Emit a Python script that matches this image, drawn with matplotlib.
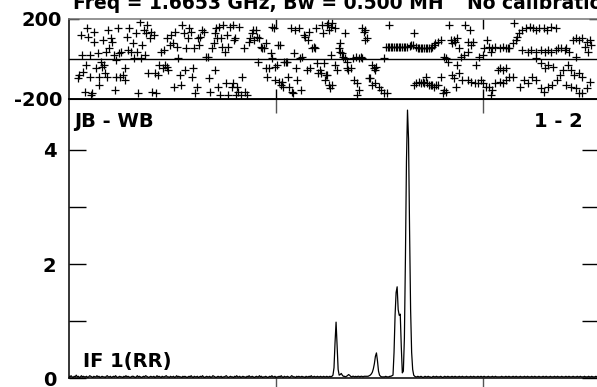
import numpy as np
import matplotlib
matplotlib.use('Agg')
import matplotlib.pyplot as plt

plt.rcParams['font.family'] = 'DejaVu Sans'
plt.rcParams['font.weight'] = 'bold'

# labels
title_left = 'Freq = 1.6653 GHz, Bw = 0.500 MH'
title_right = 'No calibration'
baseline_label = 'JB - WB'
pair_label = '1 - 2'
if_label = 'IF 1(RR)'

n_chan = 512

# amplitude spectrum, one value per channel (Jy-ish units)
amp = [
    0.03, 0.02, 0.04, 0.02, 0.01, 0.03, 0.02, 0.05, 0.02, 0.03, 0.01, 0.02, 0.04, 0.02, 0.03, 0.02,
    0.02, 0.03, 0.01, 0.02, 0.04, 0.03, 0.02, 0.01, 0.03, 0.02, 0.02, 0.04, 0.02, 0.03, 0.01, 0.02,
    0.03, 0.02, 0.02, 0.01, 0.03, 0.04, 0.02, 0.02, 0.03, 0.01, 0.02, 0.03, 0.02, 0.04, 0.02, 0.01,
    0.02, 0.03, 0.02, 0.02, 0.01, 0.03, 0.02, 0.04, 0.02, 0.03, 0.02, 0.01, 0.02, 0.03, 0.03, 0.02,
    0.01, 0.02, 0.04, 0.02, 0.03, 0.02, 0.01, 0.02, 0.03, 0.02, 0.04, 0.03, 0.02, 0.01, 0.02, 0.03,
    0.02, 0.02, 0.03, 0.01, 0.02, 0.04, 0.02, 0.03, 0.02, 0.01, 0.03, 0.02, 0.02, 0.03, 0.04, 0.02,
    0.02, 0.01, 0.03, 0.02, 0.02, 0.03, 0.01, 0.02, 0.04, 0.02, 0.03, 0.02, 0.02, 0.01, 0.03, 0.02,
    0.03, 0.02, 0.01, 0.02, 0.03, 0.02, 0.04, 0.02, 0.01, 0.03, 0.02, 0.02, 0.03, 0.01, 0.02, 0.03,
    0.02, 0.04, 0.02, 0.01, 0.02, 0.03, 0.02, 0.02, 0.03, 0.01, 0.02, 0.04, 0.03, 0.02, 0.01, 0.02,
    0.03, 0.02, 0.02, 0.03, 0.01, 0.02, 0.02, 0.03, 0.04, 0.02, 0.01, 0.02, 0.03, 0.02, 0.02, 0.01,
    0.03, 0.02, 0.04, 0.02, 0.02, 0.03, 0.01, 0.02, 0.03, 0.02, 0.02, 0.01, 0.03, 0.02, 0.04, 0.02,
    0.02, 0.03, 0.02, 0.01, 0.02, 0.03, 0.02, 0.02, 0.04, 0.02, 0.03, 0.01, 0.02, 0.02, 0.03, 0.02,
    0.01, 0.02, 0.03, 0.02, 0.04, 0.02, 0.02, 0.03, 0.01, 0.02, 0.02, 0.03, 0.02, 0.04, 0.02, 0.01,
    0.03, 0.02, 0.02, 0.03, 0.02, 0.01, 0.02, 0.04, 0.03, 0.02, 0.02, 0.01, 0.03, 0.02, 0.03, 0.02,
    0.02, 0.03, 0.02, 0.02, 0.01, 0.03, 0.02, 0.02, 0.03, 0.02, 0.04, 0.02, 0.02, 0.03, 0.02, 0.02,
    0.03, 0.02, 0.02, 0.03, 0.02, 0.02, 0.03, 0.02, 0.02, 0.03, 0.02, 0.02, 0.03, 0.02, 0.03, 0.05,
    0.18, 0.62, 0.98, 0.55, 0.15, 0.05, 0.06, 0.08, 0.05, 0.03, 0.03, 0.02, 0.03, 0.04, 0.06, 0.05,
    0.03, 0.02, 0.03, 0.03, 0.02, 0.03, 0.02, 0.03, 0.03, 0.02, 0.03, 0.03, 0.02, 0.03, 0.03, 0.03,
    0.03, 0.03, 0.04, 0.05, 0.07, 0.10, 0.16, 0.25, 0.38, 0.44, 0.30, 0.12, 0.05, 0.03, 0.02, 0.02,
    0.02, 0.02, 0.03, 0.02, 0.02, 0.02, 0.03, 0.03, 0.04, 0.05, 0.45, 1.10, 1.50, 1.60, 1.20, 1.10,
    1.12, 0.55, 0.09, 0.12, 0.70, 2.10, 3.80, 4.70, 4.20, 2.60, 1.20, 0.45, 0.15, 0.05, 0.03, 0.02,
    0.02, 0.03, 0.02, 0.02, 0.03, 0.02, 0.01, 0.02, 0.03, 0.02, 0.02, 0.03, 0.02, 0.02, 0.01, 0.02,
    0.03, 0.02, 0.02, 0.03, 0.02, 0.02, 0.02, 0.03, 0.02, 0.01, 0.02, 0.03, 0.02, 0.02, 0.03, 0.02,
    0.02, 0.02, 0.03, 0.02, 0.02, 0.03, 0.02, 0.02, 0.02, 0.03, 0.02, 0.02, 0.03, 0.02, 0.02, 0.02,
    0.03, 0.02, 0.02, 0.02, 0.03, 0.02, 0.02, 0.03, 0.02, 0.02, 0.02, 0.03, 0.02, 0.02, 0.03, 0.02,
    0.02, 0.03, 0.02, 0.02, 0.02, 0.03, 0.02, 0.02, 0.02, 0.03, 0.02, 0.02, 0.03, 0.02, 0.02, 0.02,
    0.02, 0.02, 0.03, 0.02, 0.02, 0.02, 0.03, 0.02, 0.02, 0.03, 0.02, 0.02, 0.02, 0.03, 0.02, 0.02,
    0.03, 0.02, 0.02, 0.02, 0.03, 0.02, 0.02, 0.02, 0.03, 0.02, 0.02, 0.03, 0.02, 0.02, 0.02, 0.03,
    0.02, 0.02, 0.03, 0.02, 0.02, 0.02, 0.03, 0.02, 0.02, 0.02, 0.03, 0.02, 0.02, 0.03, 0.02, 0.02,
    0.02, 0.03, 0.02, 0.02, 0.02, 0.03, 0.02, 0.02, 0.03, 0.02, 0.02, 0.02, 0.03, 0.02, 0.02, 0.02,
    0.03, 0.02, 0.02, 0.03, 0.02, 0.02, 0.02, 0.03, 0.02, 0.02, 0.02, 0.03, 0.02, 0.02, 0.03, 0.02,
    0.02, 0.02, 0.03, 0.02, 0.02, 0.02, 0.03, 0.02, 0.02, 0.03, 0.02, 0.02, 0.02, 0.03, 0.02, 0.02,
]

# phase points (channel, degrees)
phase_a = [(9, -97), (10, -80), (12, 120), (13, 20), (14, -63), (15, -163), (16, -30), (17, 153),
           (18, 112), (20, 20), (20, -88), (21, -180), (22, -172), (24, 137), (24, 87), (26, -47),
           (28, 28), (29, -88), (29, -130), (31, -13), (32, -38), (33, 95), (34, -30), (35, -72),
           (36, 37), (37, -88), (38, 145), (39, 53), (41, 103), (42, 87), (43, 20), (44, -155),
           (45, -88), (45, -5), (47, 153), (48, 28), (49, -88), (50, 37), (52, -80), (54, -105),
           (54, -47), (56, 112), (57, 45), (58, 153), (60, 37), (62, 78), (63, 3), (65, 128),
           (66, 37), (67, -172), (69, 185), (70, 3), (71, 70), (72, 145), (73, 20), (74, 128),
           (75, 170), (76, -72), (78, 103), (79, 137), (80, -163), (82, 120), (83, -72), (84, -172),
           (86, -80), (87, -30), (89, 37), (91, -47), (92, 45), (93, -30), (95, -38), (95, 103),
           (96, -55), (98, 70), (99, 120), (100, 78), (101, -138), (102, 137), (104, 62), (105, 3),
           (107, -80), (108, -130), (109, 170), (111, 128), (112, -55), (113, 53), (115, 103),
           (116, 153), (118, 137), (119, -88), (120, -47), (121, 53), (122, -172), (124, -138),
           (125, 103), (126, 70)]
phase_b = [(127, 112), (128, 145), (130, 137), (132, 12), (134, 12), (135, -97), (136, -163),
           (138, 53), (140, 78), (141, 128), (141, -55), (142, 153), (143, 103), (144, -138),
           (145, 162), (146, -180), (147, 103), (148, 62), (149, 170), (151, 37), (152, -122),
           (153, 120), (154, 62), (154, -180), (156, 162), (157, -138), (158, -122), (158, 170),
           (159, 95), (160, 103), (161, -180), (162, -138), (163, -163), (164, 162), (166, -180),
           (167, -88), (169, 53), (170, -163), (172, -180), (174, 87), (175, 103), (177, 128),
           (178, 145), (179, 95), (181, 145), (182, 112), (183, -13), (184, 103), (185, 62),
           (186, 53), (188, 53), (190, 78), (190, -47), (191, -88), (193, -47), (195, 28),
           (196, 162), (196, 3), (198, 153), (199, -38), (199, -105), (201, -30), (202, 70),
           (203, -113), (204, 70), (205, -130), (206, -113), (207, -138), (208, -13), (210, -13),
           (211, -13), (212, -88), (213, -138), (214, 153), (215, -163), (216, -172), (217, 28),
           (218, 145), (219, -47), (220, -105), (222, 153), (223, 3), (224, -155), (225, 12),
           (227, 120), (228, 112), (230, -55), (231, 95), (232, 137), (233, -47), (235, 53),
           (237, 62), (238, 53), (239, 153), (240, -22), (241, -72), (242, -55), (243, -72),
           (244, 170), (245, 128), (246, -22), (247, -105), (248, -80)]
phase_c = [(249, 170), (249, -80), (250, 178), (251, 145), (251, -130), (252, -147), (253, 162),
           (253, 20), (254, 178), (254, -130), (257, 153), (257, -30), (259, -55), (261, 53),
           (262, 37), (262, 78), (264, 28), (265, 12), (267, 3), (267, 128), (269, -13), (269, -47),
           (270, -55), (272, -47), (274, 3), (275, -105), (277, 12), (278, -122), (278, -180),
           (280, 3), (280, -155), (282, 12), (283, 3), (283, 153), (285, 137), (286, 145),
           (286, 95), (288, 103), (290, -97), (291, -97), (293, -30), (293, -130), (295, -47),
           (296, -55), (296, -122), (297, -38), (299, -138), (301, -155), (304, -172), (304, 3),
           (306, 62), (307, -172), (308, 62), (309, 62), (309, 170), (311, 62), (312, 62),
           (314, 62), (316, 62), (317, 62), (319, 62), (320, 62), (322, 62), (324, 62), (325, 62),
           (327, 62), (329, 67), (330, 70), (332, 70), (333, 128), (333, -130), (335, 62),
           (335, -122), (337, 53), (338, -113), (338, 53), (340, 53), (340, -122), (341, 53),
           (342, -113), (343, 53), (343, -122), (345, 53), (345, -88), (346, 53), (346, -122),
           (348, 53), (348, -130), (350, 53), (350, -130), (351, 62), (351, -130), (353, 70),
           (353, -138), (354, 78), (355, -130), (356, 87), (356, -130), (359, 95), (359, -88),
           (361, -172), (362, -155), (362, 12), (364, -163), (364, 3), (366, -13), (367, 170),
           (369, 95), (370, 78), (370, -80), (372, 95), (372, -97), (373, 87), (374, -138)]
phase_d = [(375, 103), (375, -30), (377, 53), (377, -72), (379, 12), (380, -105), (382, 20),
           (383, 170), (385, 87), (385, 37), (385, -105), (387, 145), (388, 70), (388, -113),
           (390, 87), (392, -122), (393, -30), (395, -122), (396, 12), (398, -105), (400, 20),
           (400, -122), (401, 53), (403, -138), (404, 95), (406, 62), (406, -138), (408, 37),
           (408, -180), (409, 53), (409, -155), (412, 62), (412, -122), (414, -55), (416, 53),
           (416, -113), (416, -47), (419, 62), (419, -122), (419, -55), (422, 53), (422, -105),
           (422, -47), (424, 53), (425, 53), (425, -88), (429, 78), (429, -88), (430, 178),
           (432, 95), (433, 112), (435, 128), (436, -138), (438, 145), (438, 45), (440, -105),
           (441, 153), (443, 37), (443, -122), (445, 162), (446, 45), (447, -88), (448, 153),
           (451, 145), (451, 37), (451, -105), (451, 3), (454, 153), (456, 45), (456, -147),
           (456, -22), (459, 153), (459, -163), (460, 37), (460, -47), (462, 145), (463, 45),
           (463, -138), (463, -30), (466, 162), (466, 37), (467, -130), (468, -38), (470, 153),
           (470, 45), (471, -105), (472, 53), (474, -80), (475, 53), (477, -55), (479, 45),
           (480, -130), (480, 53), (482, -30), (483, 37), (485, -138), (485, -55), (487, 95),
           (488, -80), (490, 103), (490, -147), (490, 12), (493, 95), (493, -172), (493, -72),
           (496, 103), (496, -172), (496, -88), (498, 62), (500, 87), (500, -147), (501, 37),
           (503, 95), (503, -113), (504, 70)]

phase_pts = np.array(phase_a + phase_b + phase_c + phase_d, dtype=float)
chan = np.arange(n_chan)

W, H = 597.0, 387.0
fig = plt.figure(figsize=(W / 100, H / 100), dpi=100)

ax_ph = fig.add_axes([69 / W, 1 - 99 / H, 530 / W, 80 / H])
ax_sp = fig.add_axes([69 / W, 1 - 378 / H, 530 / W, 279 / H])

# phase panel
ax_ph.plot(phase_pts[:, 0], phase_pts[:, 1], '+', color='black', ms=5.5, mew=0.9)
ax_ph.axhline(0, color='black', lw=1.0)
ax_ph.set_xlim(0, n_chan)
ax_ph.set_ylim(-200, 200)
ax_ph.set_xticks([200, 400])
ax_ph.set_yticks([-200, 200])
ax_ph.set_yticklabels(['-200', '200'])
ax_ph.tick_params(axis='both', direction='in', top=True, right=True,
                  length=7, width=1, labelsize=14, pad=5, labelbottom=False)
ax_ph.spines['top'].set_color('#777777')

# amplitude panel
ax_sp.plot(chan, amp, color='black', lw=0.9)
ax_sp.set_xlim(0, n_chan)
ax_sp.set_ylim(0, 279 / 57.0)
ax_sp.set_xticks([200, 400])
ax_sp.set_yticks([0, 1, 2, 3, 4])
ax_sp.set_yticklabels(['0', '', '2', '', '4'])
ax_sp.tick_params(axis='y', direction='in', left=True, right=True,
                  length=12, width=1, labelsize=14, pad=9)
ax_sp.tick_params(axis='x', direction='out', length=12, width=1,
                  labelbottom=False, color='#555555')
top_ax = ax_sp.secondary_xaxis('top')
top_ax.set_xticks([200, 400])
top_ax.tick_params(direction='in', length=10, width=1, labeltop=False, color='#555555')

for ax in (ax_ph, ax_sp):
    for s in ax.spines.values():
        s.set_linewidth(1.1)

# labels
fig.text(73 / W, 1 - 9 / H, title_left, fontsize=13.5, va='baseline', ha='left')
fig.text(467 / W, 1 - 9 / H, title_right, fontsize=13.5, va='baseline', ha='left')
fig.text(74 / W, 1 - 127 / H, baseline_label, fontsize=14, va='baseline', ha='left')
fig.text(583 / W, 1 - 127 / H, pair_label, fontsize=14, va='baseline', ha='right')
fig.text(83 / W, 1 - 367 / H, if_label, fontsize=14, va='baseline', ha='left')

fig.savefig('out.png', dpi=100)
